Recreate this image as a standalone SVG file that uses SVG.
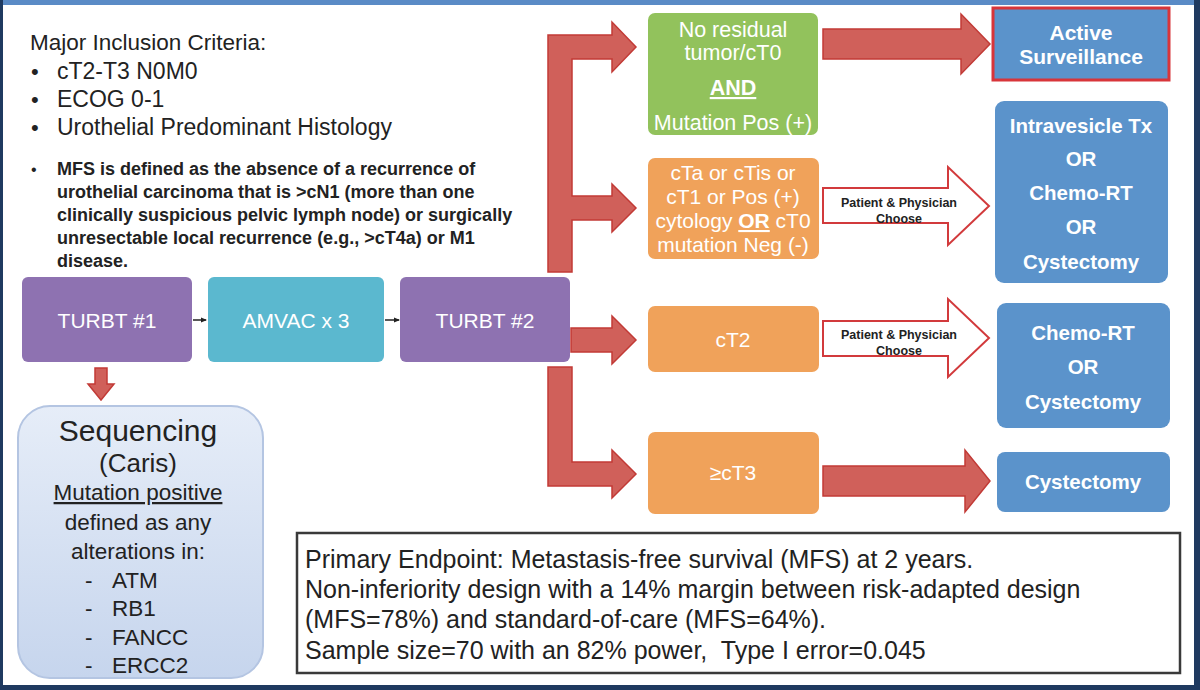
<svg xmlns="http://www.w3.org/2000/svg" width="1200" height="690" viewBox="0 0 1200 690">
<defs>
<linearGradient id="seqg" x1="0" y1="0" x2="0" y2="1">
<stop offset="0" stop-color="#e6edf8"/>
<stop offset="1" stop-color="#c6d5ed"/>
</linearGradient>
<marker id="sa" markerWidth="6" markerHeight="6" refX="5" refY="3" orient="auto" markerUnits="userSpaceOnUse">
<path d="M0,0.5 L6,3 L0,5.5 Z" fill="#222"/>
</marker>
<style>
.t{font-family:"Liberation Sans",Arial,sans-serif;}
.w{fill:#ffffff;}
.wb{fill:#ffffff;font-weight:bold;}
.dk{fill:#222222;}
.red{fill:#d0605a;stroke:#c23a36;stroke-width:1.5;}
.hol{fill:#ffffff;stroke:#d23a3c;stroke-width:2;}
.purple{fill:#8e72b1;}
.teal{fill:#5bb8cf;}
.green{fill:#92c25c;}
.orange{fill:#f0a25a;}
.blue{fill:#5b93cb;}
</style>
</defs>
<rect x="0" y="0" width="1200" height="690" fill="#ffffff"/>
<rect x="0" y="0" width="1195" height="5" fill="#5a8bc6"/>
<rect x="0" y="0" width="3" height="690" fill="#1f3a60"/>
<rect x="1194" y="0" width="6" height="690" fill="#1f3a60"/>
<rect x="0" y="685" width="1200" height="5" fill="#1f3a60"/>

<g id="criteria" class="t dk">
<text x="30" y="50" font-size="22.5">Major Inclusion Criteria:</text>
<text x="31" y="79" font-size="22">•</text><text x="57" y="79" font-size="23">cT2-T3 N0M0</text>
<text x="31" y="107" font-size="22">•</text><text x="57" y="107" font-size="23">ECOG 0-1</text>
<text x="31" y="135" font-size="22">•</text><text x="57" y="135" font-size="23">Urothelial Predominant Histology</text>
<text x="31" y="175" font-size="16">•</text>
<g font-size="18" font-weight="bold">
<text x="57" y="175">MFS is defined as the absence of a recurrence of</text>
<text x="57" y="198">urothelial carcinoma that is &gt;cN1 (more than one</text>
<text x="57" y="221">clinically suspicious pelvic lymph node) or surgically</text>
<text x="57" y="244">unresectable local recurrence (e.g., &gt;cT4a) or M1</text>
<text x="57" y="267">disease.</text>
</g>
</g>

<g id="connectors">
<line x1="193" y1="320" x2="206" y2="320" stroke="#222" stroke-width="1.5" marker-end="url(#sa)"/>
<line x1="385" y1="320" x2="399" y2="320" stroke="#222" stroke-width="1.5" marker-end="url(#sa)"/>
<path class="red" d="M95,368 L107,368 L107,384 L114,384 L101,400 L88,384 L95,384 Z"/>
<path class="red" d="M548,272 L548,35 L612,35 L612,22 L636,47 L612,72 L612,59 L572,59 L572,196 L612,196 L612,184 L636,208 L612,232 L612,220 L572,220 L572,272 Z"/>
<path class="red" d="M571,328 L612,328 L612,316 L636,340 L612,364 L612,352 L571,352 Z"/>
<path class="red" d="M548,367 L572,367 L572,462 L612,462 L612,450 L636,474 L612,498 L612,486 L548,486 Z"/>
<path class="red" d="M823,29 L961,29 L961,14 L990,44 L961,74 L961,59 L823,59 Z"/>
<path class="red" d="M823,466 L965,466 L965,450 L990,481 L965,512 L965,496 L823,496 Z"/>
<path class="hol" d="M823,188 L948,188 L948,167 L989,206 L948,245 L948,223 L823,223 Z"/>
<path class="hol" d="M823,321 L948,321 L948,299 L989,338 L948,377 L948,356 L823,356 Z"/>
<g class="t dk" font-size="12.5" font-weight="bold" text-anchor="middle">
<text x="899" y="207">Patient &amp; Physician</text>
<text x="899" y="223">Choose</text>
<text x="899" y="339">Patient &amp; Physician</text>
<text x="899" y="355">Choose</text>
</g>
</g>

<g id="turbt1">
<rect class="purple" x="22" y="277" width="170" height="85" rx="6"/>
<text class="t w" x="107" y="328" font-size="21" text-anchor="middle">TURBT #1</text>
</g>
<g id="amvac">
<rect class="teal" x="208" y="277" width="176" height="85" rx="6"/>
<text class="t w" x="296" y="328" font-size="21" text-anchor="middle">AMVAC x 3</text>
</g>
<g id="turbt2">
<rect class="purple" x="400" y="277" width="170" height="85" rx="6"/>
<text class="t w" x="485" y="328" font-size="21" text-anchor="middle">TURBT #2</text>
</g>

<g id="sequencing">
<rect x="18" y="406" width="245" height="272" rx="32" fill="url(#seqg)" stroke="#b4c5e2" stroke-width="2"/>
<g class="t dk" text-anchor="middle">
<text x="138" y="441" font-size="30">Sequencing</text>
<text x="138" y="472" font-size="26">(Caris)</text>
<text x="138" y="500" font-size="22.5" text-decoration="underline">Mutation positive</text>
<text x="138" y="530" font-size="22.5">defined as any</text>
<text x="138" y="559" font-size="22.5">alterations in:</text>
</g>
<g class="t dk" font-size="22.5">
<text x="85" y="588">-</text><text x="112" y="588">ATM</text>
<text x="85" y="616">-</text><text x="112" y="616">RB1</text>
<text x="85" y="645">-</text><text x="112" y="645">FANCC</text>
<text x="85" y="673">-</text><text x="112" y="673">ERCC2</text>
</g>
</g>

<g id="no-residual">
<rect class="green" x="648" y="13" width="170" height="122" rx="7"/>
<g class="t w" font-size="21.5" text-anchor="middle">
<text x="733" y="37">No residual</text>
<text x="733" y="60">tumor/cT0</text>
<text x="733" y="95" font-weight="bold" text-decoration="underline">AND</text>
<text x="733" y="130">Mutation Pos (+)</text>
</g>
</g>
<g id="cta">
<rect class="orange" x="648" y="158" width="171" height="101" rx="7"/>
<g class="t w" font-size="21" text-anchor="middle">
<text x="733" y="180">cTa or cTis or</text>
<text x="733" y="204">cT1 or Pos (+)</text>
<text x="733" y="228">cytology <tspan font-weight="bold" text-decoration="underline">OR</tspan> cT0</text>
<text x="733" y="252">mutation Neg (-)</text>
</g>
</g>
<g id="ct2">
<rect class="orange" x="648" y="306" width="171" height="66" rx="7"/>
<text class="t w" x="733" y="347" font-size="21" text-anchor="middle">cT2</text>
</g>
<g id="ct3">
<rect class="orange" x="648" y="432" width="171" height="82" rx="7"/>
<text class="t w" x="733" y="480" font-size="21" text-anchor="middle">≥cT3</text>
</g>

<g id="active">
<rect class="blue" x="993" y="8" width="176" height="72" stroke="#d8353a" stroke-width="3"/>
<g class="t wb" font-size="21" text-anchor="middle">
<text x="1081" y="40">Active</text>
<text x="1081" y="64">Surveillance</text>
</g>
</g>
<g id="intravesicle">
<rect class="blue" x="995" y="101" width="173" height="182" rx="9"/>
<g class="t wb" font-size="20.5" text-anchor="middle">
<text x="1081" y="133">Intravesicle Tx</text>
<text x="1081" y="166">OR</text>
<text x="1081" y="200">Chemo-RT</text>
<text x="1081" y="234">OR</text>
<text x="1081" y="269">Cystectomy</text>
</g>
</g>
<g id="chemort">
<rect class="blue" x="997" y="303" width="173" height="125" rx="9"/>
<g class="t wb" font-size="20.5" text-anchor="middle">
<text x="1083" y="340">Chemo-RT</text>
<text x="1083" y="374">OR</text>
<text x="1083" y="409">Cystectomy</text>
</g>
</g>
<g id="cystectomy">
<rect class="blue" x="997" y="452" width="173" height="60" rx="8"/>
<text class="t wb" x="1083" y="489" font-size="20.5" text-anchor="middle">Cystectomy</text>
</g>

<g id="endpoint">
<rect x="297" y="533" width="883" height="140" fill="#ffffff" stroke="#3a3a3a" stroke-width="2.5"/>
<g class="t dk" font-size="25">
<text x="305" y="568">Primary Endpoint: Metastasis-free survival (MFS) at 2 years.</text>
<text x="305" y="598">Non-inferiority design with a 14% margin between risk-adapted design</text>
<text x="305" y="628">(MFS=78%) and standard-of-care (MFS=64%).</text>
<text x="305" y="659">Sample size=70 with an 82% power,&#160; Type I error=0.045</text>
</g>
</g>
</svg>
